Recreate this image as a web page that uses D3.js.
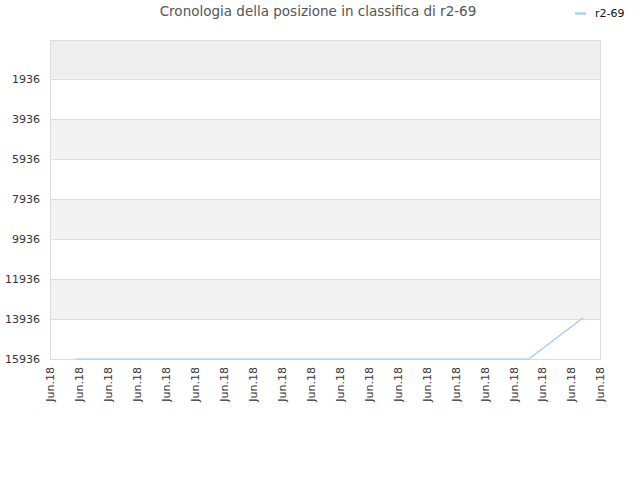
<!DOCTYPE html>
<html>
<head>
<meta charset="utf-8">
<script src="https://cdn.jsdelivr.net/npm/d3@7"></script>
<style>
  body { margin: 0; background: white; }
  text { font-family: "DejaVu Sans", sans-serif; }
</style>
</head>
<body>
<svg width="640" height="480"></svg>
<script>
// data
const seriesName = "r2-69"
const titleText = "Cronologia della posizione in classifica di r2-69"
const dates = ["2018-06-01T21:00", "2018-06-05T12:00", "2018-06-10T12:00", "2018-06-15T12:00", "2018-06-17T13:00", "2018-06-19T10:00"]
const ranks = [15936, 15936, 15936, 15936, 15936, 13880]
const yTicks = [1936, 3936, 5936, 7936, 9936, 11936, 13936, 15936]
const xStart = "2018-06-01T00:00"
const xEnd = "2018-06-20T00:00"

const svg = d3.select('svg')
const width = +svg.attr('width')
const height = +svg.attr('height')
const margin = {top: 40, right: 40, bottom: 121, left: 50}
const innerW = width - margin.left - margin.right
const innerH = height - margin.top - margin.bottom

const parse = d3.timeParse("%Y-%m-%dT%H:%M")
const data = dates.map((d, i) => ({date: parse(d), rank: ranks[i]}))

const x = d3.scaleTime()
    .domain([parse(xStart), parse(xEnd)])
    .range([0, innerW])
const y = d3.scaleLinear()
    .domain([0, 15936])
    .range([0, innerH])

const g = svg.append('g')
    .attr('transform', `translate(${margin.left}, ${margin.top})`)

// bands
const bandEdges = [0, ...yTicks]
g.selectAll('rect.band')
    .data(bandEdges.slice(0, -1))
    .enter().append('rect')
    .attr('class', 'band')
    .attr('x', 0)
    .attr('width', innerW)
    .attr('y', d => y(d))
    .attr('height', (d, i) => y(bandEdges[i + 1]) - y(d))
    .attr('fill', (d, i) => i === 0 ? '#eeeeee' : (i % 2 === 0 ? '#f3f3f3' : '#ffffff'))

// gridlines
g.selectAll('line.grid')
    .data(yTicks)
    .enter().append('line')
    .attr('x1', 0).attr('x2', innerW)
    .attr('y1', d => Math.round(y(d)) + 0.5).attr('y2', d => Math.round(y(d)) + 0.5)
    .attr('stroke', '#dddddd')

// frame
g.append('rect')
    .attr('x', 0.5).attr('y', 0.5)
    .attr('width', innerW).attr('height', innerH)
    .attr('fill', 'none')
    .attr('stroke', '#dddddd')

// y axis
const yAxisG = g.append('g').call(d3.axisLeft(y).tickValues(yTicks).tickFormat(d3.format('d')).tickSize(0).tickPadding(10))
yAxisG.select('.domain').remove()
yAxisG.selectAll('text')
    .attr('fill', '#333')
    .style('font-size', '11px')

// x axis
const xAxisG = g.append('g')
    .attr('transform', `translate(0, ${innerH})`)
    .call(d3.axisBottom(x).ticks(d3.timeDay.every(1)).tickFormat(() => "Jun.18").tickSize(0))
xAxisG.select('.domain').remove()
xAxisG.selectAll('text')
    .attr('fill', '#333')
    .style('font-size', '11px')
    .attr('text-anchor', 'end')
    .attr('transform', 'rotate(-90)')
    .attr('x', -8)
    .attr('y', 0)
    .attr('dy', '0.35em')

// line
const line = d3.line()
    .x(d => x(d.date))
    .y(d => y(d.rank))
g.append('path')
    .datum(data)
    .attr('d', line)
    .attr('fill', 'none')
    .attr('stroke', '#9fc6f2')
    .attr('stroke-width', 1.2)

// title
svg.append('text')
    .attr('x', 318)
    .attr('y', 16)
    .attr('text-anchor', 'middle')
    .attr('fill', '#555')
    .style('font-size', '13.5px')
    .text(titleText)

// legend
svg.append('line')
    .attr('x1', 575).attr('x2', 586)
    .attr('y1', 13.5).attr('y2', 13.5)
    .attr('stroke', '#9fc6f2')
    .attr('stroke-width', 2)
svg.append('text')
    .attr('x', 595)
    .attr('y', 17)
    .attr('fill', '#111')
    .style('font-size', '11px')
    .text(seriesName)
</script>
</body>
</html>
